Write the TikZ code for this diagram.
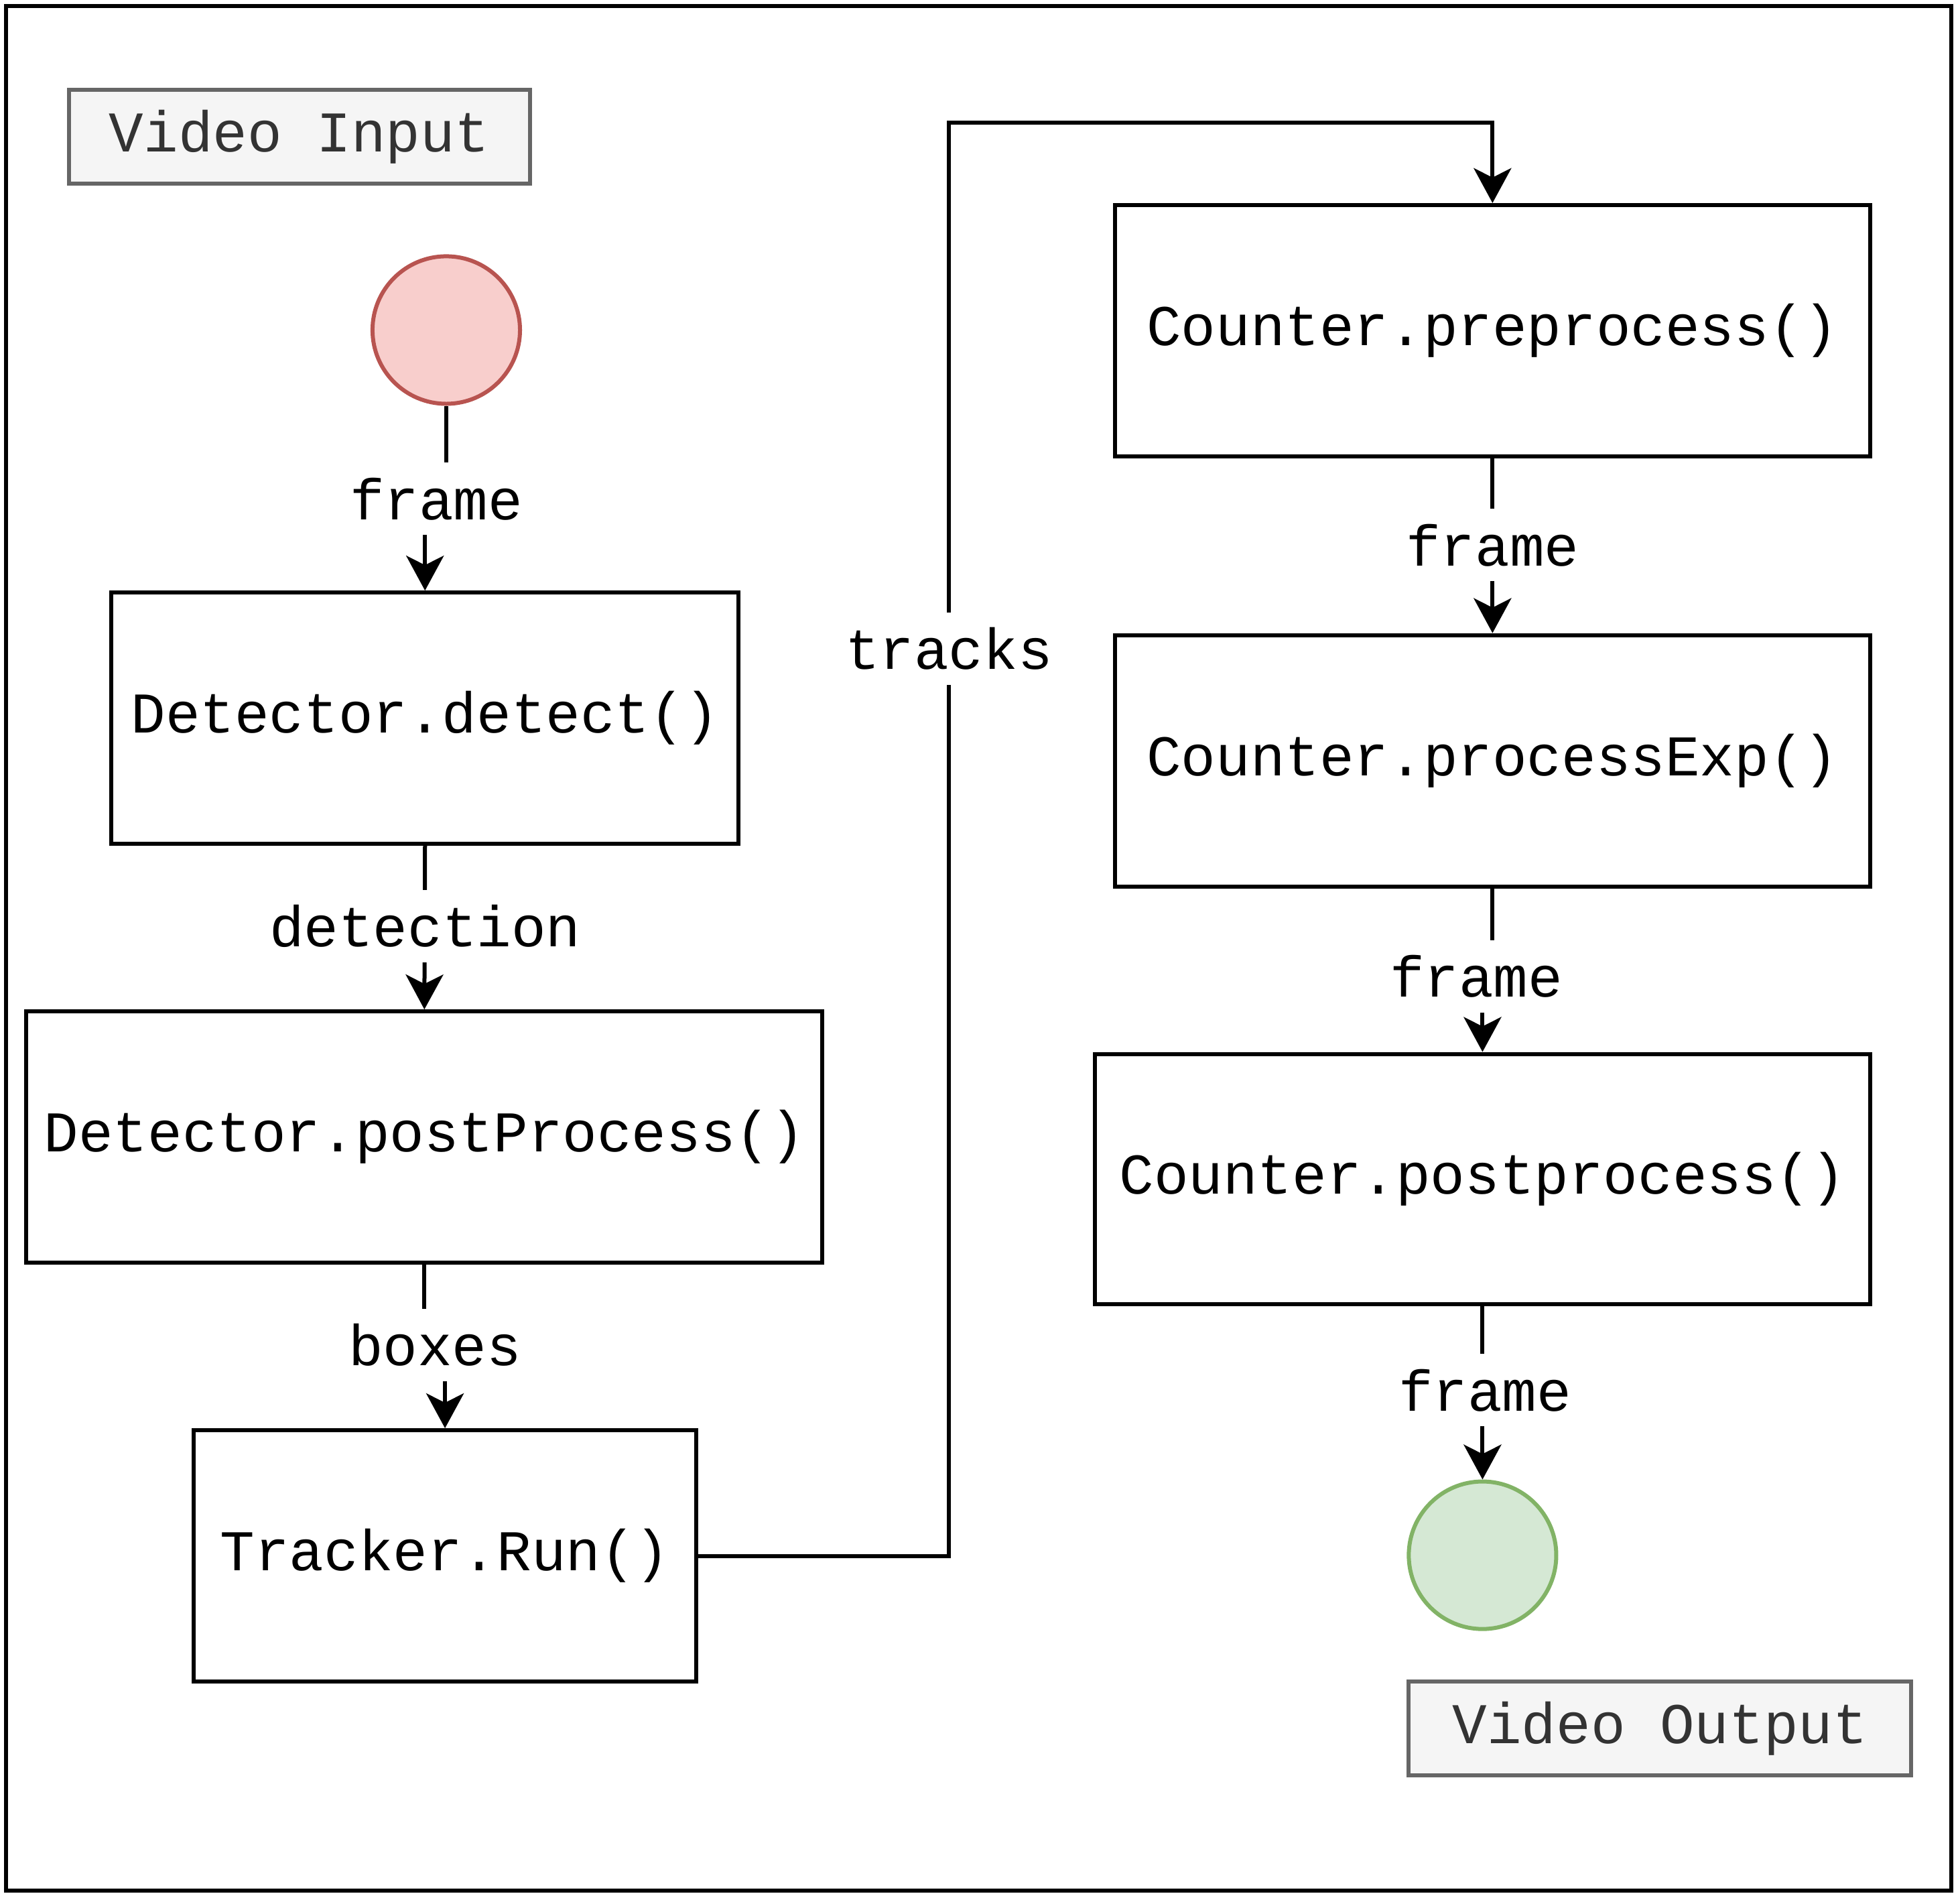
\documentclass[tikz,border=0pt]{standalone}
\usepackage{fontspec}
\setmonofont{Liberation Mono}
\usetikzlibrary{arrows.meta}
\definecolor{redfill}{HTML}{F8CECC}
\definecolor{redline}{HTML}{B85450}
\definecolor{greenfill}{HTML}{D5E8D4}
\definecolor{greenline}{HTML}{82B366}
\definecolor{greyfill}{HTML}{F5F5F5}
\definecolor{greyline}{HTML}{666666}
\definecolor{greytext}{HTML}{333333}
\def\U{0.46635pt}
\begin{document}
\begin{tikzpicture}[x=0.46635pt,y=-0.46635pt,
  txt/.style={font=\ttfamily\fontsize{21.5}{25}\selectfont},
  proc/.style={txt,draw=black,line width=1.5pt,fill=white,inner sep=0pt,minimum height=201*\U},
  tag/.style={txt,draw=greyline,line width=1.5pt,fill=greyfill,text=greytext,inner sep=0pt,minimum height=75*\U},
  term/.style={circle,line width=1.5pt,inner sep=0pt,minimum size=118*\U},
  lbl/.style={txt,fill=white,inner sep=1pt,minimum height=58*\U},
  arr/.style={line width=1.5pt,-{Stealth[length=13pt,width=14pt,inset=3.5pt]}}]
\useasboundingbox (0,0) rectangle (1568,1521);
\node[draw=black,line width=1.5pt,minimum width=1556*\U,minimum height=1507*\U,inner sep=0pt] (frm) at (783,758.5) {};
\node[tag,minimum width=369*\U] (vin) at (239.5,109.5) {Video Input};
\node[term,draw=redline,fill=redfill] (cin) at (357,264) {};
\node[proc,minimum width=502*\U] (det) at (340,574.5) {Detector.detect()};
\node[proc,minimum width=637*\U] (post) at (339.5,909.5) {Detector.postProcess()};
\node[proc,minimum width=402*\U] (trk) at (356,1244.5) {Tracker.Run()};
\node[proc,minimum width=604*\U] (pre) at (1194,264.5) {Counter.preprocess()};
\node[proc,minimum width=604*\U] (exp) at (1194,608.5) {Counter.processExp()};
\node[proc,minimum width=620*\U,minimum height=200*\U] (cpost) at (1186,943) {Counter.postprocess()};
\node[term,draw=greenline,fill=greenfill] (cout) at (1186,1244) {};
\node[tag,minimum width=402*\U] (vout) at (1328,1382.5) {Video Output};
% connectors
\draw[arr] (cin.south) |- (340,398) -- (det.north);
\draw[arr] (det.south) -- (post.north);
\draw[arr] (post.south) |- (356,1076) -- (trk.north);
\draw[arr] (trk.east) -- (759,1244.5) -- (759,98) -| (pre.north);
\draw[arr] (pre.south) -- (exp.north);
\draw[arr] (exp.south) |- (1186,776) -- (cpost.north);
\draw[arr] (cpost.south) -- (cout.north);
% labels
\node[lbl] (l1) at (349,399) {frame};
\node[lbl] (l2) at (340,741) {detection};
\node[lbl] (l3) at (348,1076) {boxes};
\node[lbl] (l4) at (759,519) {tracks};
\node[lbl] (l5) at (1194,436) {frame};
\node[lbl] (l6) at (1181,781) {frame};
\node[lbl] (l7) at (1188,1112) {frame};
\end{tikzpicture}
\end{document}
